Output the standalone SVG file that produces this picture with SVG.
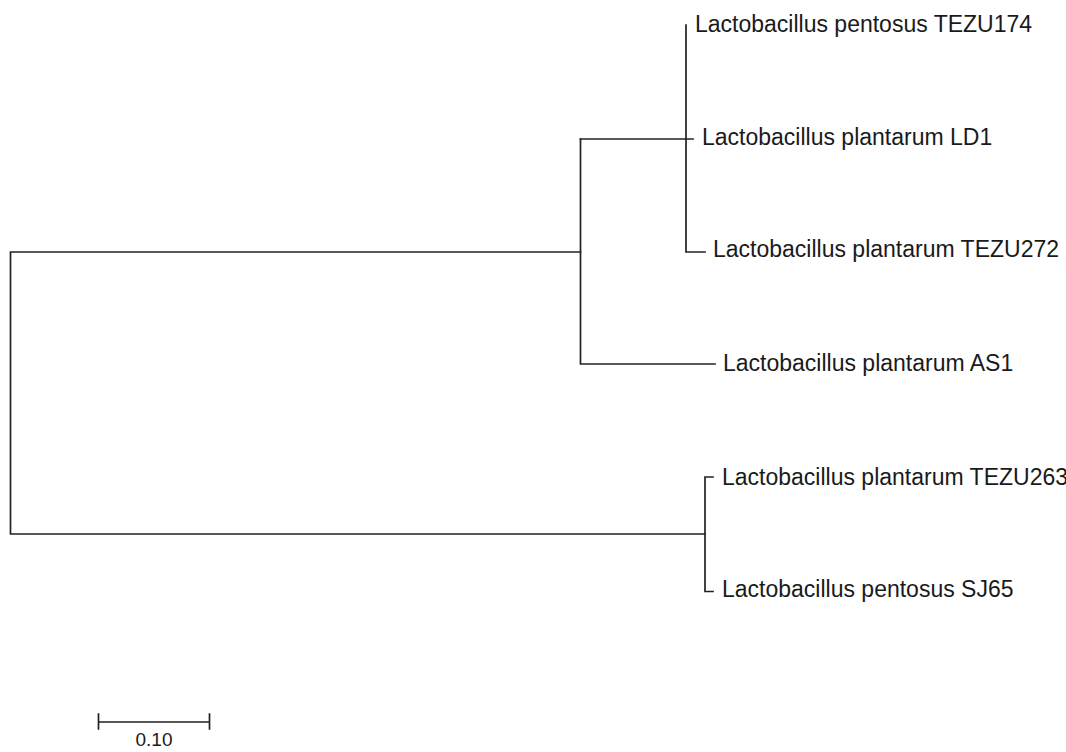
<svg xmlns="http://www.w3.org/2000/svg" width="1066" height="752" viewBox="0 0 1066 752">
<style>
.br{fill:none;stroke:#222;stroke-width:1.7;stroke-linecap:square}
.lb{font-family:"Liberation Sans",Arial,sans-serif;font-size:23px;fill:#1a1a1a}
.sc{font-family:"Liberation Sans",Arial,sans-serif;font-size:19px;fill:#1a1a1a;text-anchor:middle}
</style>
<rect width="1066" height="752" fill="#fff"/>
<g id="connectors">
<path class="br" d="M580.5,252 H10.5 V534 H705"/>
<path class="br" d="M580.5,139 V364 H715"/>
<path class="br" d="M580.5,139 H693"/>
<path class="br" d="M686,25 V252 H705"/>
<path class="br" d="M713,477 H705 V591.5 H713"/>
</g>
<g id="tip-TEZU174"><text class="lb" x="695" y="32">Lactobacillus pentosus TEZU174</text></g>
<g id="tip-LD1"><text class="lb" x="702" y="145">Lactobacillus plantarum LD1</text></g>
<g id="tip-TEZU272"><text class="lb" x="713" y="257">Lactobacillus plantarum TEZU272</text></g>
<g id="tip-AS1"><text class="lb" x="723" y="371">Lactobacillus plantarum AS1</text></g>
<g id="tip-TEZU263"><text class="lb" x="722" y="485">Lactobacillus plantarum TEZU263</text></g>
<g id="tip-SJ65"><text class="lb" x="722" y="597">Lactobacillus pentosus SJ65</text></g>
<g id="scale-bar">
<path class="br" d="M98.5,722 H209.5 M98.5,714 V729 M209.5,714 V729"/>
<text class="sc" x="154" y="746">0.10</text>
</g>
</svg>
